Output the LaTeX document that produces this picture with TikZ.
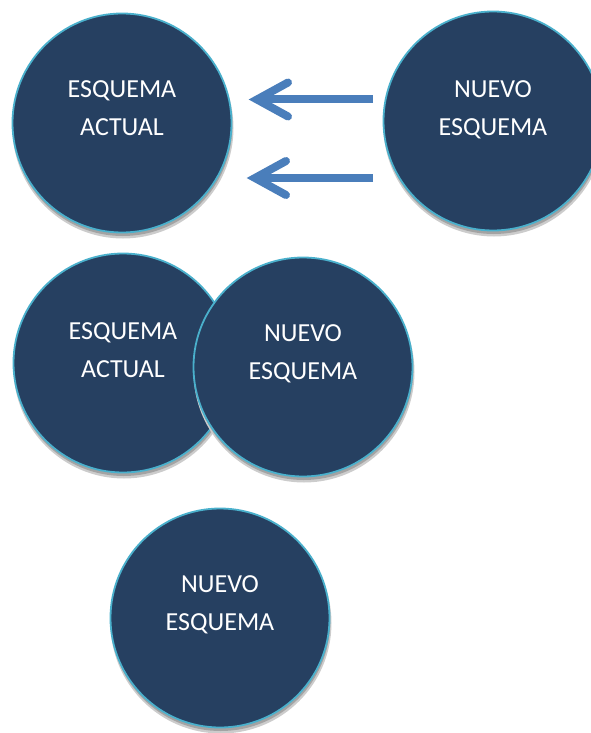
\documentclass[tikz,border=0pt]{standalone}
\usepackage{fontspec}
\setmainfont{Carlito}
\usetikzlibrary{calc}
\definecolor{discfill}{HTML}{264061}
\definecolor{discrim}{HTML}{4AB0CC}
\definecolor{arrowblue}{HTML}{4A7EBB}
\begin{document}
\begin{tikzpicture}[x=1pt,y=-1pt,
  disc/.style={circle, fill=discfill, draw=discrim, line width=1.8pt,
               minimum size=219pt, inner sep=0pt},
  softshadow/.style={circle, fill=black!20, minimum size=221pt, inner sep=0pt},
  hardshadow/.style={circle, fill=black!36, minimum size=219pt, inner sep=0pt},
  caption/.style={text=white, align=center, inner sep=0pt,
                  font=\fontsize{26}{38}\selectfont},
  barrow/.style={draw=arrowblue, line width=8pt}
]
\useasboundingbox (0,0) rectangle (591,733);

% a disc with a drop shadow just below it
\newcommand{\shadowdisc}[2]{%
  \node[softshadow] at ($(#2)+(1,5)$) {};
  \node[hardshadow] at ($(#2)+(0.7,3.5)$) {};
  \node[disc] (#1) at (#2) {};
}

% top row
\shadowdisc{actualA}{122,123}
\shadowdisc{nuevoA}{493,121}
\node[caption] (actualAtxt) at (122,108) {ESQUEMA\\ACTUAL};
\node[caption] (nuevoAtxt) at (493,110) {NUEVO\\ESQUEMA};

% arrows from the new scheme back to the current one
\coordinate (a1s) at (373,99.5);
\coordinate (a1t) at (257,99.5);
\coordinate (a1u) at (288,82.5);
\coordinate (a1d) at (288,116.5);
\draw[barrow, line cap=butt] (a1s) -- (a1t);
\draw[barrow, line cap=round, line join=miter] (a1u) -- (a1t) -- (a1d);

\coordinate (a2s) at (373,178);
\coordinate (a2t) at (255,178);
\coordinate (a2u) at (286,161);
\coordinate (a2d) at (286,195);
\draw[barrow, line cap=butt] (a2s) -- (a2t);
\draw[barrow, line cap=round, line join=miter] (a2u) -- (a2t) -- (a2d);

% middle row: overlapping discs
\shadowdisc{actualB}{123,363}
\shadowdisc{nuevoB}{303,367}
\node[caption] (actualBtxt) at (123,350) {ESQUEMA\\ACTUAL};
\node[caption] (nuevoBtxt) at (303,354) {NUEVO\\ESQUEMA};

% bottom row
\shadowdisc{nuevoC}{220,618}
\node[caption] (nuevoCtxt) at (220,605) {NUEVO\\ESQUEMA};
\end{tikzpicture}
\end{document}
